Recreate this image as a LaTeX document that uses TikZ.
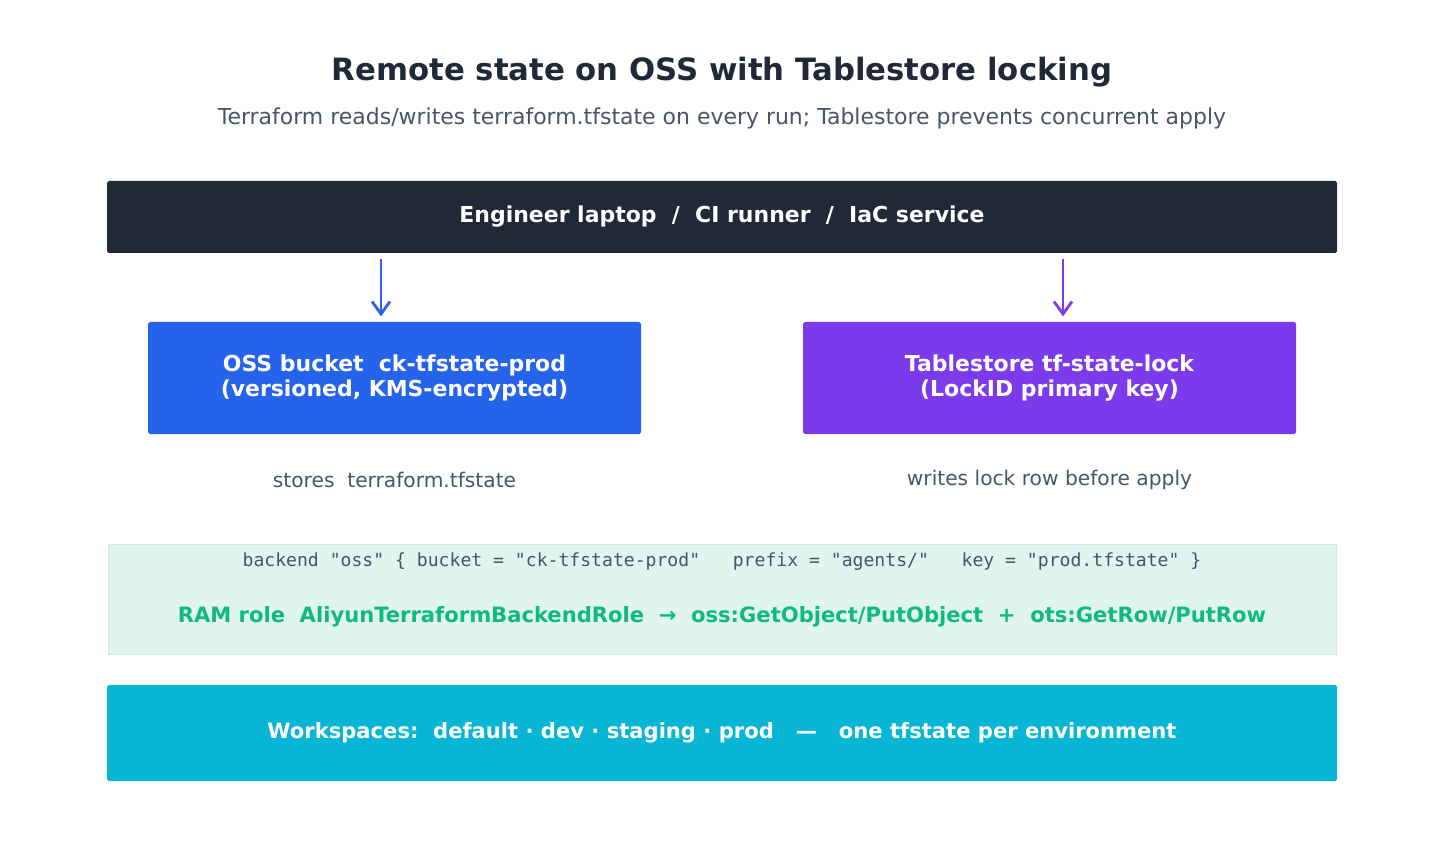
\documentclass[tikz,border=0pt]{standalone}
\usepackage{fontspec}
\setmainfont{DejaVu Sans}
\setmonofont{DejaVu Sans Mono}
\usetikzlibrary{arrows.meta, positioning}
\definecolor{ink}{HTML}{1F2937}
\definecolor{slate}{HTML}{475569}
\definecolor{ossblue}{HTML}{2563EB}
\definecolor{lockpurple}{HTML}{7C3AED}
\definecolor{ramgreen}{HTML}{10B981}
\definecolor{ramfill}{HTML}{E0F5EE}
\definecolor{ramline}{HTML}{C8EEDF}
\definecolor{wscyan}{HTML}{06B6D4}
\tikzset{
  box/.style={rounded corners=1pt, text=white, font=\bfseries\fontsize{12.5}{14}\selectfont, align=center, inner sep=0pt},
  note/.style={text=slate, font=\fontsize{11.5}{13}\selectfont},
  arr/.style={-{Straight Barb[length=2.5mm,width=3.6mm]}, line width=1.6pt, shorten >=3pt, shorten <=3pt}
}
\begin{document}
\begin{tikzpicture}[x=0.02cm, y=-0.02cm]
        \useasboundingbox (0,0) rectangle (1444,868);
        % Title
        \node[text=ink, font=\bfseries\fontsize{17.5}{20}\selectfont] (title) at (722,72) {Remote state on OSS with Tablestore locking};
        \node[text=slate, font=\fontsize{12.5}{14}\selectfont] (sub) at (722,118) {Terraform reads/writes terraform.tfstate on every run; Tablestore prevents concurrent apply};

        % Client
        \node[box, fill=ink, minimum width=1230*0.02cm, minimum height=72*0.02cm] (client) at (722,217) {Engineer laptop\ \ /\ \ CI runner\ \ /\ \ IaC service};

        % Backends
        \node[box, fill=ossblue, minimum width=493*0.02cm, minimum height=112*0.02cm] (oss) at (394.5,378) {OSS bucket\ \ ck-tfstate-prod\\(versioned, KMS-encrypted)};
        \node[box, fill=lockpurple, minimum width=493*0.02cm, minimum height=112*0.02cm] (lock) at (1049.5,378) {Tablestore tf-state-lock\\(LockID primary key)};
        \node[note, below=26pt of oss.south, anchor=center] (ossnote) {stores\ \ terraform.tfstate};
        \node[note, below=26pt of lock.south, anchor=center] (locknote) {writes lock row before apply};

        % Arrows
        \coordinate (ox) at (381,0);
        \coordinate (lx) at (1063,0);
        \draw[arr, ossblue] (client.south -| ox) -- (oss.north -| ox);
        \draw[arr, lockpurple] (client.south -| lx) -- (lock.north -| lx);

        % Backend config
        \node[draw=ramline, fill=ramfill, minimum width=1228*0.02cm, minimum height=110*0.02cm, inner sep=0pt] (cfg) at (722,599) {};
        \node[text=slate, font=\ttfamily\fontsize{10.3}{12}\selectfont] (code) at (722,562) {backend "oss" \{ bucket = "ck-tfstate-prod"\ \ \ prefix = "agents/"\ \ \ key = "prod.tfstate" \}};
        \node[text=ramgreen, font=\bfseries\fontsize{12}{14}\selectfont] (ram) at (722,617) {RAM role\ \ AliyunTerraformBackendRole\ \ →\ \ oss:GetObject/PutObject\ \ +\ \ ots:GetRow/PutRow};

        % Workspaces
        \node[box, fill=wscyan, minimum width=1230*0.02cm, minimum height=96*0.02cm, font=\bfseries\fontsize{12}{14}\selectfont] (ws) at (722,733) {Workspaces:\ \ default · dev · staging · prod\ \ \ —\ \ \ one tfstate per environment};
\end{tikzpicture}
\end{document}
